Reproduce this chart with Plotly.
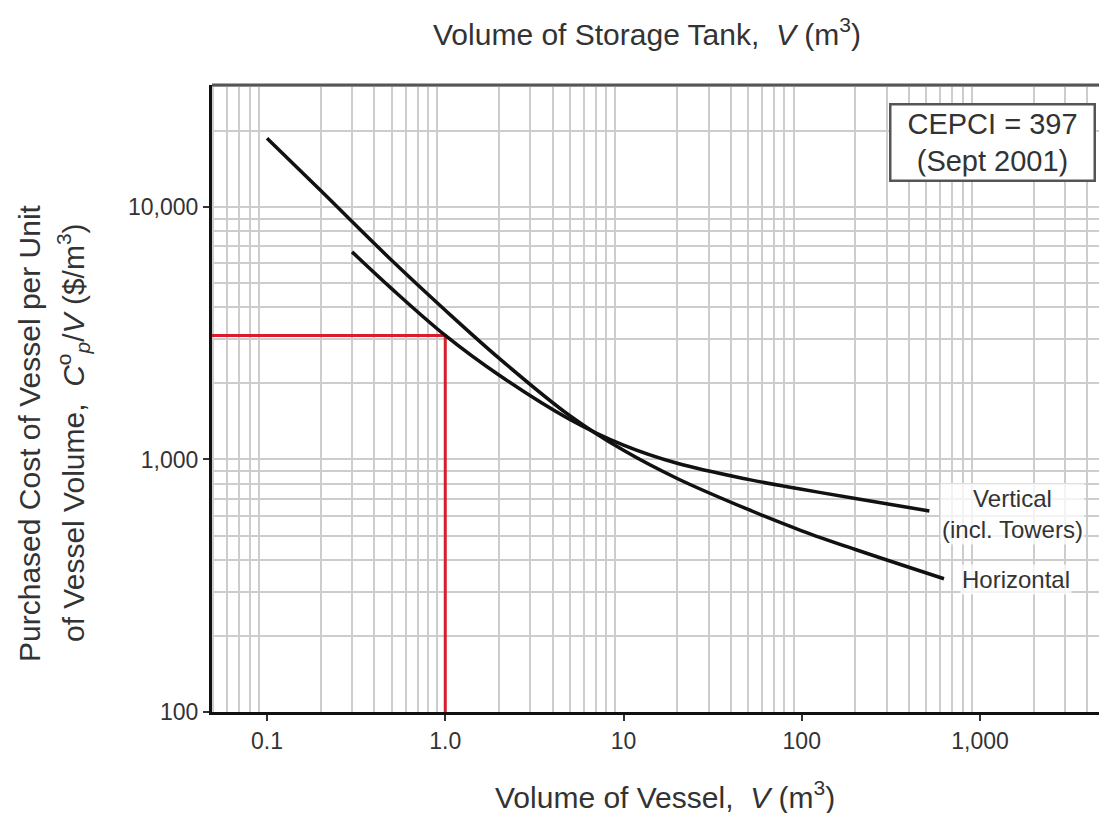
import math
import plotly.graph_objects as go

# ---- data ----
horiz_V = [0.1, 0.2, 0.5, 1.0, 2.0, 5.0, 10.0, 20.0, 50.0, 100.0, 200.0, 628.0]
horiz_cost = [18700, 11610, 6150, 3900, 2520, 1490, 1087, 841, 634, 522, 440, 337]

vert_V = [0.3, 0.5, 1.0, 2.0, 5.0, 10.0, 20.0, 50.0, 100.0, 200.0, 520.0]
vert_cost = [6640, 4750, 3100, 2160, 1440, 1140, 966, 834, 762, 701, 625]

guide_V = 1.0
guide_cost = 3100

x_tick_vals = [0.1, 1, 10, 100, 1000]
x_tick_text = ["0.1", "1.0", "10", "100", "1,000"]
y_tick_vals = [100, 1000, 10000]
y_tick_text = ["100", "1,000", "10,000"]

x_range_log = [-1.3086, 3.6676]
y_range_log = [2.0, 4.483]

FONT = "Liberation Sans, Arial, Helvetica, sans-serif"
TXT = "#333333"
GRID = "#cdcdcd"

# minor grid positions (2..9 of each decade) -- axis styling
x_minor = [m * 10 ** d for d in range(-2, 4) for m in range(2, 10)
           if x_range_log[0] <= math.log10(m * 10 ** d) <= x_range_log[1]]
y_minor = [m * 10 ** d for d in range(2, 5) for m in range(2, 10)
           if y_range_log[0] <= math.log10(m * 10 ** d) <= y_range_log[1]]

x_min = 10 ** x_range_log[0]
y_min = 10 ** y_range_log[0]

fig = go.Figure()

fig.add_trace(go.Scatter(
    x=[x_min, guide_V, guide_V], y=[guide_cost, guide_cost, y_min],
    mode="lines", line=dict(color="#d81e2c", width=3), showlegend=False,
    hoverinfo="skip"))

fig.add_trace(go.Scatter(
    x=horiz_V, y=horiz_cost, mode="lines", name="Horizontal",
    line=dict(color="#111111", width=3.5, shape="spline", smoothing=1.0),
    showlegend=False))

fig.add_trace(go.Scatter(
    x=vert_V, y=vert_cost, mode="lines", name="Vertical (incl. Towers)",
    line=dict(color="#111111", width=3.5, shape="spline", smoothing=1.0),
    showlegend=False))

fig.update_layout(
    width=1099, height=813,
    margin=dict(l=212, r=0, t=85, b=101),
    paper_bgcolor="white", plot_bgcolor="white",
    font=dict(family=FONT, color=TXT),
    xaxis=dict(
        type="log", range=x_range_log,
        tickmode="array", tickvals=x_tick_vals, ticktext=x_tick_text,
        ticks="outside", ticklen=6, tickwidth=1.5, tickcolor="#333",
        tickfont=dict(size=23, color=TXT, family=FONT),
        showgrid=False, zeroline=False,
        showline=True, linecolor="#111111", linewidth=3,
        minor=dict(tickmode="array", tickvals=x_minor, showgrid=True,
                   gridcolor=GRID, gridwidth=1.5, ticks=""),
    ),
    yaxis=dict(
        type="log", range=y_range_log,
        tickmode="array", tickvals=y_tick_vals, ticktext=y_tick_text,
        ticks="outside", ticklen=6, tickwidth=1.5, tickcolor="#333",
        tickfont=dict(size=23, color=TXT, family=FONT),
        showgrid=True, gridcolor=GRID, gridwidth=1.5, zeroline=False,
        showline=True, linecolor="#111111", linewidth=3,
        minor=dict(tickmode="array", tickvals=y_minor, showgrid=True,
                   gridcolor=GRID, gridwidth=1.5, ticks=""),
    ),
)

# top border of the frame
fig.add_shape(type="line", xref="paper", yref="paper", x0=0, x1=1, y0=1, y1=1,
              line=dict(color="#555555", width=3))

nb = "\u00a0"
ann = [
    dict(text=f"Volume of Vessel,{nb}{nb}<i>V</i>{nb}(m<sup>3</sup>)",
         x=0.511, y=-0.1324, size=30),
    dict(text=f"Volume of Storage Tank,{nb}{nb}<i>V</i>{nb}(m<sup>3</sup>)",
         x=0.490, y=1.0845, size=30),
]
for a in ann:
    fig.add_annotation(text=a["text"], x=a["x"], y=a["y"], xref="paper", yref="paper",
                       showarrow=False, font=dict(size=a["size"], color=TXT, family=FONT),
                       xanchor="center", yanchor="middle")

fig.add_annotation(text="Purchased Cost of Vessel per Unit", x=-0.2052, y=0.445,
                   xref="paper", yref="paper", showarrow=False, textangle=-90,
                   font=dict(size=30, color=TXT, family=FONT),
                   xanchor="center", yanchor="middle")
fig.add_annotation(
    text=f"of Vessel Volume,{nb}{nb}<i>C</i><sup>o</sup><sub><i>p</i></sub>/<i>V</i>{nb}($/m<sup>3</sup>)",
    x=-0.1567, y=0.445, xref="paper", yref="paper", showarrow=False, textangle=-90,
    font=dict(size=30, color=TXT, family=FONT), xanchor="center", yanchor="middle")

# curve labels
fig.add_annotation(text="Vertical<br>(incl. Towers)", x=0.902, y=0.315,
                   xref="paper", yref="paper", showarrow=False,
                   font=dict(size=24, color=TXT, family=FONT),
                   bgcolor="rgba(255,255,255,0.75)", xanchor="center", yanchor="middle")
fig.add_annotation(text="Horizontal", x=0.906, y=0.212,
                   xref="paper", yref="paper", showarrow=False,
                   font=dict(size=24, color=TXT, family=FONT),
                   bgcolor="rgba(255,255,255,0.75)", xanchor="center", yanchor="middle")

# CEPCI box
fig.add_annotation(text="CEPCI = 397<br>(Sept 2001)", x=0.9966, y=0.909,
                   xref="paper", yref="paper", showarrow=False,
                   font=dict(size=29, color=TXT, family=FONT),
                   bgcolor="white", bordercolor="#555555", borderwidth=2.5,
                   borderpad=3, width=196, height=68,
                   xanchor="right", yanchor="middle")

# remove the default 8px page margin so the figure fills the window exactly
fig.write_html(
    "out.html",
    config={"displayModeBar": False},
    post_script="document.body.style.margin='0';document.documentElement.style.overflow='hidden';",
)
